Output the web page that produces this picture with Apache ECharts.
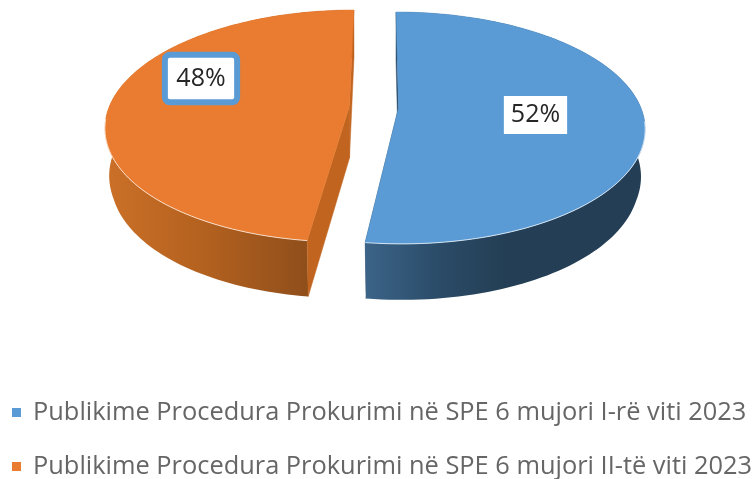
<!DOCTYPE html>
<html><head><meta charset="utf-8">
<style>html,body{margin:0;padding:0;background:#fff}#c{width:755px;height:479px}</style>
<script src="https://cdn.jsdelivr.net/npm/echarts@6/dist/echarts.min.js"></script>
</head><body><div id="c"></div>
<script>
const categories = ['Publikime Procedura Prokurimi në SPE 6 mujori I-rë viti 2023',
                    'Publikime Procedura Prokurimi në SPE 6 mujori II-të viti 2023'];
const values = [52, 48];
const topColors = ['#5B9BD5', '#E97C30'];

// Perspective model of the disc (layout only)
const B = 112.5, PERSP = 0.172;
const slices = [
  { vx: 398.5, vy: 108, A: 242.5, shear: 0.025, endBehind: true,
    wall: [[0,'#3B6488'],[0.28,'#2A4A66'],[0.5,'#243F55'],[1,'#243F55']], radial:'#2A4A66',
    label:{ x:535.5, y:115, box:{backgroundColor:'#fff', padding:[6,7,6,7]} } },
  { vx: 349.5, vy: 106, A: 240, shear: -0.045, endBehind: false,
    wall: [[0,'#CB7028'],[0.4,'#B3611F'],[0.82,'#8F4E1B'],[1,'#8F4E1B']], radial:'#C0641F',
    label:{ x:201, y:78.5, box:{backgroundColor:'#fff', padding:[7.8,8.5,7.8,8.5], borderColor:'#5B9BD5', borderWidth:6, borderRadius:2} } }
];
const legendTops = [400, 454];
const total = values.reduce((a,b)=>a+b,0);

function project(s, th, r, bottom){
  const u = r*Math.sin(th), v = r*Math.cos(th), w = 1 + PERSP*v;
  const dy = -B*v/w, dx = s.A*u/w + s.shear*dy;
  if(!bottom) return [s.vx+dx, s.vy+dy];
  const sx = 0.975 + 0.045*Math.max(0, v+0.34);
  return [s.vx + dx*sx, s.vy + dy + 52 - 4*v];
}
function arc(s, a0, a1, bottom){
  const pts=[]; const n=120;
  for(let i=0;i<=n;i++) pts.push(project(s, a0+(a1-a0)*i/n, 1, bottom));
  return pts;
}
const renderSlice = idx => (params, api) => {
  const s = slices[idx];
  const before = values.slice(0,idx).reduce((a,b)=>a+b,0);
  const val = api.value(0);
  const a0 = before/total*2*Math.PI, a1 = (before+val)/total*2*Math.PI;
  const topArc = arc(s,a0,a1,false), botArc = arc(s,a0,a1,true);
  const vT = project(s,0,0,false), vB = project(s,0,0,true);
  const radialWall = a => ({type:'polygon', shape:{points:[vT, project(s,a,1,false), project(s,a,1,true), vB]},
      style:{fill:s.radial, stroke:s.radial, lineWidth:0.5}});
  const outerWall = {type:'polygon', shape:{points:topArc.concat(botArc.slice().reverse())},
      style:{fill:{type:'linear',x:0,y:0,x2:1,y2:0,colorStops:s.wall.map(c=>({offset:c[0],color:c[1]}))}}};
  const walls = s.endBehind ? [radialWall(a1), outerWall, radialWall(a0)]
                            : [outerWall, radialWall(a0), radialWall(a1)];
  const children = walls.concat([
    {type:'polygon', shape:{points:[vT].concat(topArc)},
      style:{fill:topColors[idx], stroke:topColors[idx], lineWidth:0.5}},
    {type:'polyline', shape:{points:topArc.filter((p,i)=>{const t=a0+(a1-a0)*i/120;return Math.cos(t)<-0.1;})},
      style:{fill:'none', stroke:'rgba(255,255,255,0.7)', lineWidth:1}},
    {type:'text', z2:10, style:Object.assign({text:Math.round(val/total*100)+'%', x:s.label.x, y:s.label.y,
      align:'center', verticalAlign:'middle', fontFamily:'"Open Sans"', fontSize:25, lineHeight:26, fill:'#262626'}, s.label.box)}
  ]);
  return {type:'group', children};
};
const chart = echarts.init(document.getElementById('c'), null, {renderer:'canvas'});
chart.setOption({
  animation:false,
  color:topColors,
  legend:categories.map((name,i)=>({orient:'vertical', left:12, top:legendTops[i], padding:0,
    itemWidth:9, itemHeight:9, icon:'rect', data:[name],
    textStyle:{fontFamily:'"Open Sans"', fontSize:25.4, lineHeight:24, color:'#666666', padding:[0,0,0,7]}})),
  series:categories.map((name,i)=>({type:'custom', name, coordinateSystem:'none',
    renderItem:renderSlice(i), data:[{value:[values[i]], name}], itemStyle:{color:topColors[i]}}))
});
</script></body></html>
